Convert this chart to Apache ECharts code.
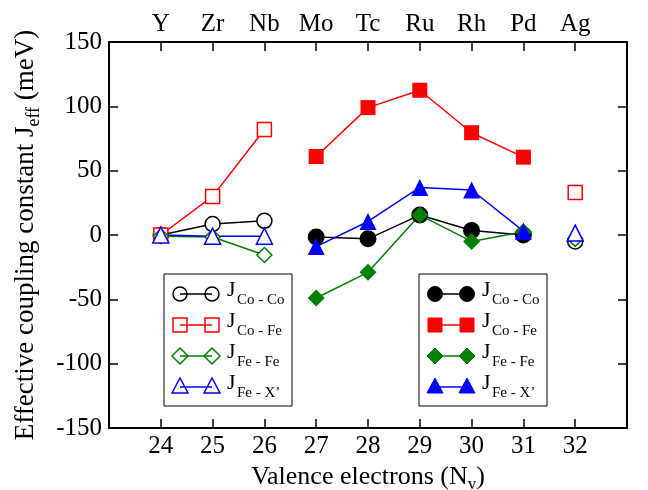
<!DOCTYPE html>
<html>
<head>
<meta charset="utf-8">
<script src="https://cdn.jsdelivr.net/npm/echarts@6/dist/echarts.min.js"></script>
<style>
  html, body { margin: 0; padding: 0; background: #fff; }
  #main { width: 648px; height: 490px; }
</style>
</head>
<body>
<div id="main"></div>
<script>
// valence electron counts and the element names on the top axis
var electrons = [24, 25, 26, 27, 28, 29, 30, 31, 32];
var elements = ['Y', 'Zr', 'Nb', 'Mo', 'Tc', 'Ru', 'Rh', 'Pd', 'Ag'];

// open symbols: 24-26 joined by a line, 32 alone (null = gap)
var openX = [24, 25, 26, 27, 32];
var ccOpen = [0, 8.5, 11, null, -5];
var cfOpen = [0, 30, 82, null, 33];
var ffOpen = [-1, -1.5, -15.5, null, -3];
var fxOpen = [0, -1, -1, null, 1.5];

// filled symbols: 27-31
var filledX = [27, 28, 29, 30, 31];
var ccFilled = [-1.5, -3, 15.5, 3.5, 0];
var cfFilled = [61, 99, 112.5, 79.5, 60.5];
var ffFilled = [-49, -29, 15.5, -5, 2.5];
var fxFilled = [-9, 10.5, 37, 35, 3];

var legendLabels = ['Co - Co', 'Co - Fe', 'Fe - Fe', 'Fe - X\u2019'];
var colors = ['#000000', '#ff0000', '#008000', '#0000ff'];

var chart = echarts.init(document.getElementById('main'));
var serif = 'Liberation Serif';

function pairs(xs, ys) {
  return xs.map(function (x, i) { return [x, ys[i] === null ? '-' : ys[i]]; });
}

function lineSeries(name, xs, ys, color, symbol, size, filled) {
  return {
    name: name,
    type: 'line',
    data: pairs(xs, ys),
    symbol: symbol,
    symbolSize: size,
    connectNulls: false,
    showAllSymbol: true,
    animation: false,
    lineStyle: { color: color, width: 1.5 },
    itemStyle: filled ? { color: color } : { color: '#fff', borderColor: color, borderWidth: 1.5 },
    emphasis: { disabled: true },
    z: 3
  };
}

// legend drawn with graphic elements (two symbols joined by a line)
function symbolShape(kind, cx, cy, color, filled) {
  var style = filled ? { fill: color, stroke: color, lineWidth: 1 } : { fill: 'none', stroke: color, lineWidth: 1.5 };
  if (kind === 'circle') return { type: 'circle', shape: { cx: cx, cy: cy, r: filled ? 7.5 : 7 }, style: style };
  if (kind === 'rect') return { type: 'rect', shape: { x: cx - 7, y: cy - 7, width: 14, height: 14 }, style: style };
  if (kind === 'diamond') return { type: 'polygon', shape: { points: [[cx, cy - 8], [cx + 8, cy], [cx, cy + 8], [cx - 8, cy]] }, style: style };
  return { type: 'polygon', shape: { points: [[cx, cy - 9], [cx + 8, cy + 6], [cx - 8, cy + 6]] }, style: style };
}

function legendBox(x, y, w, h, filled) {
  var kinds = ['circle', 'rect', 'diamond', 'triangle'];
  var els = [{
    type: 'rect', shape: { x: x, y: y, width: w, height: h },
    style: { fill: '#fff', stroke: '#000', lineWidth: 1 }
  }];
  for (var i = 0; i < 4; i++) {
    var cy = y + 20 + i * 31;
    var x1 = x + 16, x2 = x + 48;
    els.push({ type: 'line', shape: { x1: x1, y1: cy, x2: x2, y2: cy }, style: { stroke: colors[i], lineWidth: 1.5 } });
    els.push(symbolShape(kinds[i], x1, cy, colors[i], filled));
    els.push(symbolShape(kinds[i], x2, cy, colors[i], filled));
    els.push({ type: 'text', x: x + 63, y: cy - 15,
      style: { text: 'J', font: '22px ' + serif, fill: '#000' } });
    els.push({ type: 'text', x: x + 73, y: cy - 1,
      style: { text: legendLabels[i], font: '15px ' + serif, fill: '#000' } });
  }
  return { type: 'group', z: 10, children: els };
}

var axisLineStyle = { onZero: false, lineStyle: { color: '#000', width: 2 } };
var tickStyle = { show: true, inside: true, length: 9, lineStyle: { color: '#000', width: 1.5 } };

var option = {
  backgroundColor: '#fff',
  animation: false,
  grid: { left: 109, right: 21, top: 42, bottom: 62, outerBoundsMode: 'none', containLabel: false },
  xAxis: [{
    type: 'value', min: 23, max: 33, interval: 1, position: 'bottom',
    name: '{a|Valence electrons (N}{b|v}{a|)}',
    nameLocation: 'middle', nameGap: 29,
    nameTextStyle: { rich: {
      a: { fontFamily: serif, fontSize: 26, color: '#000' },
      b: { fontFamily: serif, fontSize: 17, color: '#000', padding: [16, 0, 0, 0] }
    } },
    axisLine: axisLineStyle,
    axisTick: tickStyle,
    splitLine: { show: false },
    axisLabel: {
      fontFamily: serif, fontSize: 25, color: '#000', margin: 6,
      formatter: function (v) { return electrons.indexOf(v) >= 0 ? String(v) : ''; }
    }
  }, {
    type: 'value', min: 23, max: 33, interval: 1, position: 'top',
    axisLine: axisLineStyle,
    axisTick: tickStyle,
    splitLine: { show: false },
    axisLabel: {
      fontFamily: serif, fontSize: 25, color: '#000', margin: 5,
      formatter: function (v) { var i = electrons.indexOf(v); return i >= 0 ? elements[i] : ''; }
    }
  }],
  yAxis: [{
    type: 'value', min: -150, max: 150, interval: 50, position: 'left',
    name: '{a|Effective coupling constant J}{b|eff}{a| (meV)}',
    nameLocation: 'middle', nameGap: 66,
    nameTextStyle: { rich: {
      a: { fontFamily: serif, fontSize: 27, color: '#000' },
      b: { fontFamily: serif, fontSize: 18, color: '#000', padding: [16, 0, 0, 0] }
    } },
    axisLine: { show: true, onZero: false, lineStyle: { color: '#000', width: 2 } },
    axisTick: tickStyle,
    splitLine: { show: false },
    axisLabel: { fontFamily: serif, fontSize: 25, color: '#000', margin: 7 }
  }, {
    type: 'value', min: -150, max: 150, interval: 50, position: 'right',
    axisLine: { show: true, onZero: false, lineStyle: { color: '#000', width: 2 } },
    axisTick: tickStyle,
    splitLine: { show: false },
    axisLabel: { show: false }
  }],
  series: [
    lineSeries('J Co-Co open', openX, ccOpen, colors[0], 'circle', 15, false),
    lineSeries('J Co-Fe open', openX, cfOpen, colors[1], 'rect', 14, false),
    lineSeries('J Fe-Fe open', openX, ffOpen, colors[2], 'diamond', 15, false),
    lineSeries('J Fe-X open', openX, fxOpen, colors[3], 'triangle', 16, false),
    lineSeries('J Co-Co', filledX, ccFilled, colors[0], 'circle', 17, true),
    lineSeries('J Co-Fe', filledX, cfFilled, colors[1], 'rect', 15, true),
    lineSeries('J Fe-Fe', filledX, ffFilled, colors[2], 'diamond', 17, true),
    lineSeries('J Fe-X', filledX, fxFilled, colors[3], 'triangle', 17, true)
  ],
  graphic: [
    legendBox(164, 274, 128, 132, false),
    legendBox(419, 274, 128, 132, true)
  ]
};

chart.setOption(option);
</script>
</body>
</html>
